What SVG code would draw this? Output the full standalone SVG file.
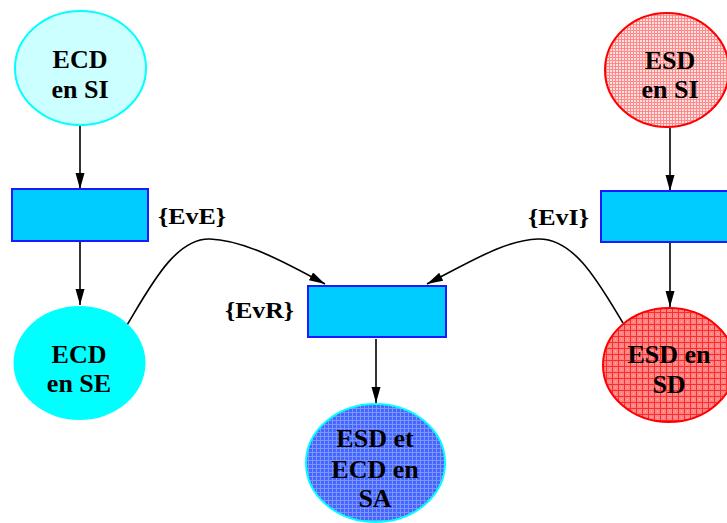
<svg xmlns="http://www.w3.org/2000/svg" width="727" height="523" viewBox="0 0 727 523">
<style>
.t{font-family:"Liberation Serif","Times New Roman",serif;font-weight:bold;font-size:26px;text-anchor:middle;fill:#000}
.lb{font-family:"Liberation Serif","Times New Roman",serif;font-weight:bold;font-size:24px;fill:#000}
.box{fill:#00ccff;stroke:#1a1aff;stroke-width:2}
.c{fill:none;stroke:#000;stroke-width:1.6;marker-end:url(#ah)}
</style>
<defs>
<marker id="ah" markerUnits="userSpaceOnUse" markerWidth="17" markerHeight="10" refX="16" refY="4.5" orient="auto">
<path d="M0,0 L16,4.5 L0,9 z" fill="#000"/>
</marker>
<pattern id="pBlue" width="4" height="4" patternUnits="userSpaceOnUse">
<rect width="4" height="4" fill="#4466ff"/>
<path d="M0,0.5 H4 M0.5,0 V4" stroke="#7d96ff" stroke-width="1"/>
</pattern>
<pattern id="pRedD" width="6" height="6" patternUnits="userSpaceOnUse">
<rect width="6" height="6" fill="#ff8585"/>
<rect x="3" y="3" width="1" height="1" fill="#ffb0b0"/>
<path d="M0,0.5 H6 M0.5,0 V6" stroke="#ff2a2a" stroke-width="1"/>
</pattern>
<pattern id="pRedL" width="3" height="3" patternUnits="userSpaceOnUse">
<rect width="3" height="3" fill="#ffe0e0"/>
<path d="M0,0.5 H3 M0.5,0 V3" stroke="#ff8a8a" stroke-width="1"/>
</pattern>
</defs>

<g id="connectors">
<path class="c" d="M80,126 V189"/>
<path class="c" d="M80,242 V305"/>
<path class="c" d="M670,128 V191"/>
<path class="c" d="M670,243 V307"/>
<path class="c" d="M376,339 V403"/>
<path class="c" d="M127,325 C150,287 175,238 210,239 C245,240 290,265 325,284"/>
<path class="c" d="M623,323 C600,285 575,238 538,239 C505,240 470,262 427,284"/>
</g>

<g id="ecd-si">
<ellipse cx="80.5" cy="68" rx="65.5" ry="57" fill="#ccffff" stroke="#00ffff" stroke-width="2"/>
<text class="t" x="80" y="68">ECD</text>
<text class="t" x="80" y="98">en SI</text>
</g>

<g id="box-eve">
<rect class="box" x="12" y="189" width="136" height="52"/>
</g>
<text id="label-eve" class="lb" x="158" y="224" textLength="68" lengthAdjust="spacingAndGlyphs">{EvE}</text>

<g id="ecd-se">
<ellipse cx="79.5" cy="363" rx="66" ry="57" fill="#00ffff"/>
<text class="t" x="79" y="363">ECD</text>
<text class="t" x="79" y="392">en SE</text>
</g>

<g id="box-evr">
<rect class="box" x="308" y="286" width="138" height="51"/>
</g>
<text id="label-evr" class="lb" x="225" y="318" textLength="69" lengthAdjust="spacingAndGlyphs">{EvR}</text>

<g id="sa">
<ellipse cx="375.5" cy="463" rx="69.5" ry="59" fill="url(#pBlue)" stroke="#00ffff" stroke-width="2"/>
<text class="t" x="375" y="447">ESD et</text>
<text class="t" x="375" y="478">ECD en</text>
<text class="t" x="375" y="507">SA</text>
</g>

<g id="esd-si">
<ellipse cx="667" cy="70" rx="62" ry="57" fill="url(#pRedL)" stroke="#ff0000" stroke-width="2"/>
<text class="t" x="670" y="69">ESD</text>
<text class="t" x="670" y="98">en SI</text>
</g>

<g id="box-evi">
<rect class="box" x="601" y="191" width="138" height="51"/>
</g>
<text id="label-evi" class="lb" x="528" y="225" textLength="61" lengthAdjust="spacingAndGlyphs">{EvI}</text>

<g id="esd-sd">
<ellipse cx="669" cy="365" rx="66" ry="57" fill="url(#pRedD)" stroke="#ff0000" stroke-width="2"/>
<text class="t" x="669" y="363">ESD en</text>
<text class="t" x="669" y="393">SD</text>
</g>
</svg>
